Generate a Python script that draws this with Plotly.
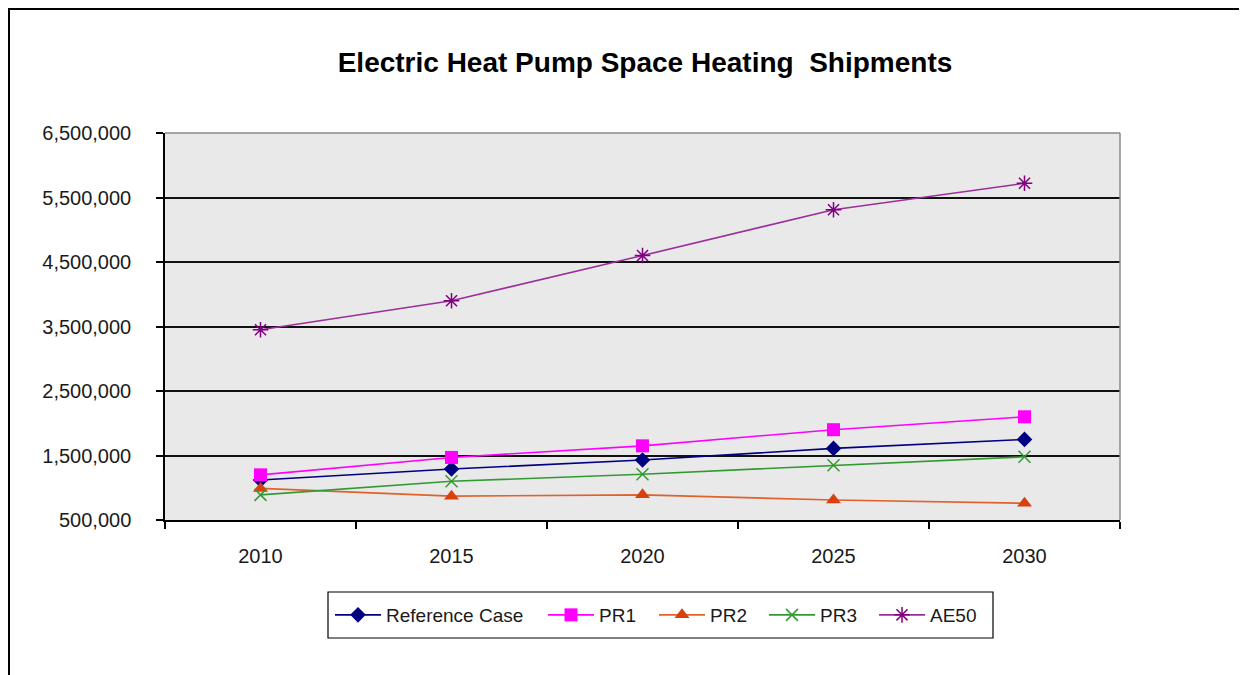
import plotly.graph_objects as go

years = ["2010", "2015", "2020", "2025", "2030"]
reference_case = [1120000, 1290000, 1430000, 1610000, 1750000]
pr1 = [1200000, 1470000, 1650000, 1900000, 2100000]
pr2 = [990000, 870000, 890000, 810000, 760000]
pr3 = [890000, 1100000, 1210000, 1350000, 1480000]
ae50 = [3450000, 3900000, 4600000, 5310000, 5720000]

y_ticks = [500000, 1500000, 2500000, 3500000, 4500000, 5500000, 6500000]

# page body has an 8px margin; work in figure coordinates (screen - 8)
OFF = 8
W, H = 1247 - OFF, 675 - OFF
L, R, T, B = 165 - OFF, 1120 - OFF, 133 - OFF, 520 - OFF

def px_x(p):
    return (p - OFF - L) / (R - L)

def px_y(p):
    return (B - (p - OFF)) / (B - T)

series = [
    ("Reference Case", reference_case, "#000080", "#000080", "diamond", 12),
    ("PR1", pr1, "#FF00FF", "#FF00FF", "square", 13),
    ("PR2", pr2, "#E0622A", "#D9400C", "triangle-up", 13),
    ("PR3", pr3, "#339933", "#339933", "x-thin-open", 12),
    ("AE50", ae50, "#9B2F9B", "#800080", "asterisk-open", 13),
]

# legend symbol centres (screen px) for each entry
legend_sym_x = [353, 566, 677, 787, 897]
legend_names = ["legend", "legend2", "legend3", "legend4", "legend5"]

fig = go.Figure()
for (name, vals, lc, mc, sym, size), lg in zip(series, legend_names):
    marker = dict(symbol=sym, size=size, color=mc)
    if sym.endswith("open"):
        marker["line"] = dict(color=mc, width=1.5)
    fig.add_trace(go.Scatter(
        x=years, y=vals, name=name, mode="lines+markers",
        line=dict(color=lc, width=1.6), marker=marker, legend=lg,
    ))

layout_legends = {}
for lg, sx in zip(legend_names, legend_sym_x):
    layout_legends[lg] = dict(
        orientation="h",
        x=px_x(sx - 23), xanchor="left",
        y=px_y(615), yanchor="middle",
        borderwidth=0,
        bgcolor="rgba(0,0,0,0)",
        font=dict(size=19, color="#1a1a1a"),
        itemwidth=46,
    )

fig.update_layout(
    width=W, height=H,
    margin=dict(l=L, r=W - R, t=T, b=H - B),
    paper_bgcolor="white",
    plot_bgcolor="#E9E9E9",
    font=dict(family="Liberation Sans, Arial, sans-serif", color="#1a1a1a"),
    title=dict(
        text="<b>Electric Heat Pump Space Heating  Shipments</b>",
        x=px_x(645), xref="paper", xanchor="center",
        y=1 - (62 - OFF) / H, yref="container", yanchor="middle",
        font=dict(size=28, color="black", family="Liberation Sans, Arial, sans-serif"),
    ),
    showlegend=True,
    **layout_legends,
)

fig.update_xaxes(
    type="category",
    range=[-0.5, 4.5],
    tickson="boundaries",
    ticks="outside", ticklen=7, tickcolor="black", tickwidth=1.5,
    showline=True, linecolor="black", linewidth=1.5,
    showgrid=False,
    tickfont=dict(size=20, color="#1a1a1a"),
    ticklabelstandoff=17,
)

fig.update_yaxes(
    range=[500000, 6500000],
    tickvals=y_ticks,
    ticktext=[f"{v:,}" for v in y_ticks],
    ticks="outside", ticklen=7, tickcolor="black", tickwidth=1.5,
    showline=True, linecolor="black", linewidth=1.5,
    showgrid=True, gridcolor="#111111", gridwidth=1.5,
    zeroline=False,
    tickfont=dict(size=20, color="#1a1a1a"),
    ticklabelstandoff=21,
)

# gray border on top and right of plot area
fig.add_shape(type="line", xref="paper", yref="paper", x0=0, x1=1, y0=1, y1=1,
              line=dict(color="#8a8a8a", width=1.5), layer="above")
fig.add_shape(type="line", xref="paper", yref="paper", x0=1, x1=1, y0=0, y1=1,
              line=dict(color="#8a8a8a", width=1.5), layer="above")

# legend frame
fig.add_shape(type="rect", xref="paper", yref="paper",
              x0=px_x(328), x1=px_x(993), y0=px_y(592), y1=px_y(638),
              line=dict(color="black", width=1.2), fillcolor="rgba(0,0,0,0)", layer="above")

# outer chart frame (top and left edges visible), as close to the edge as the page allows
fig.add_shape(type="line", xref="paper", yref="paper",
              x0=px_x(8), x1=px_x(1300), y0=px_y(9), y1=px_y(9),
              line=dict(color="black", width=2), layer="above")
fig.add_shape(type="line", xref="paper", yref="paper",
              x0=px_x(9), x1=px_x(9), y0=px_y(8), y1=px_y(700),
              line=dict(color="black", width=2), layer="above")

fig.write_html("out.html")
